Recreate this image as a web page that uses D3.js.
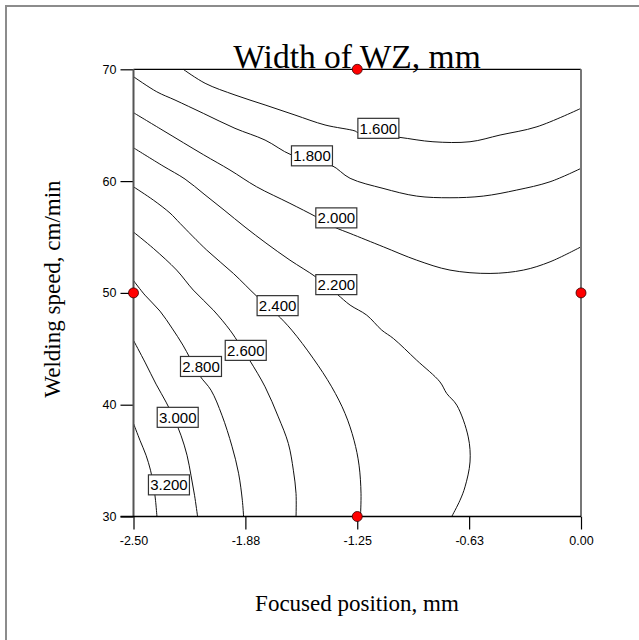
<!DOCTYPE html>
<html>
<head>
<meta charset="utf-8">
<script src="https://cdn.jsdelivr.net/npm/d3@7"></script>
<style>
  html, body { margin: 0; padding: 0; background: #fff; }
  svg { display: block; }
</style>
</head>
<body>
<svg id="chart" width="639" height="640"></svg>
<script>
// Axis ticks
const xTicks = [-2.5, -1.875, -1.25, -0.625, 0];
const xTickLabels = ["-2.50", "-1.88", "-1.25", "-0.63", "0.00"];
const yTicks = [30, 40, 50, 60, 70];

// Contour levels of the weld-zone width (mm)
const levels = [1.6, 1.8, 2.0, 2.2, 2.4, 2.6, 2.8, 3.0, 3.2];

// Contour traces: [focused position (mm), welding speed (cm/min)]
const c160 = [[-2.222,70],[-2.100,68.75],[-1.933,67.70],[-1.765,66.81],[-1.598,65.91],[-1.430,65.02],[-1.262,64.48],[-1.246,64.33],[-1.017,63.92],[-0.827,63.52],[-0.620,63.52],[-0.452,64.12],[-0.246,64.86],[0,66.51]];
const c180 = [[-2.5,69.34],[-2.370,67.99],[-2.268,67.25],[-2.110,66.06],[-1.933,64.72],[-1.765,63.67],[-1.616,62.33],[-1.397,61.44],[-1.290,60.25],[-1.106,59.35],[-0.918,58.66],[-0.732,58.51],[-0.546,58.66],[-0.359,59.20],[-0.173,59.94],[0,61.14]];
const c200 = [[-2.5,66.12],[-2.335,64.53],[-2.108,62.35],[-1.961,60.99],[-1.812,59.49],[-1.626,58.01],[-1.480,56.81],[-1.374,55.86],[-1.290,55.32],[-1.104,54.12],[-0.918,52.93],[-0.732,52.04],[-0.508,51.74],[-0.322,52.04],[-0.173,52.78],[0,54.12]];
const c220 = [[-2.5,62.98],[-2.335,61.35],[-2.212,60.18],[-2.106,58.84],[-1.994,57.41],[-1.877,55.89],[-1.760,54.46],[-1.626,52.93],[-1.480,51.41],[-1.363,49.89],[-1.290,48.91],[-1.197,48.01],[-1.113,46.67],[-1.048,45.92],[-0.918,43.98],[-0.788,42.04],[-0.750,41.00],[-0.694,39.96],[-0.630,37.12],[-0.620,34.88],[-0.648,32.65],[-0.676,31.45],[-0.722,30]];
const c240 = [[-2.5,59.49],[-2.389,58.30],[-2.296,57.14],[-2.240,56.22],[-2.091,53.83],[-1.942,51.74],[-1.812,49.71],[-1.700,48.10],[-1.616,46.67],[-1.497,44.16],[-1.393,41.60],[-1.318,39.21],[-1.268,36.82],[-1.240,34.59],[-1.229,32.08],[-1.232,30]];
const c260 = [[-2.5,55.44],[-2.389,53.98],[-2.259,52.04],[-2.166,50.25],[-2.054,48.46],[-1.961,46.67],[-1.905,45.33],[-1.849,43.92],[-1.765,41.60],[-1.691,38.91],[-1.635,36.53],[-1.607,34.14],[-1.592,32.06],[-1.592,30]];
const c280 = [[-2.5,51.10],[-2.436,49.80],[-2.352,48.37],[-2.285,46.85],[-2.224,45.33],[-2.184,44.16],[-2.128,42.55],[-2.067,41.30],[-2.006,39.06],[-1.950,36.29],[-1.913,33.87],[-1.892,31.45],[-1.885,30]];
const c300 = [[-2.5,45.75],[-2.436,43.81],[-2.374,41.84],[-2.318,40.23],[-2.274,38.79],[-2.235,37.27],[-2.201,35.48],[-2.179,33.69],[-2.159,31.90],[-2.142,30]];
const c320 = [[-2.5,38.32],[-2.464,36.82],[-2.430,35.48],[-2.405,34.14],[-2.388,32.80],[-2.377,31.45],[-2.369,30]];
const contourTraces = [c160, c180, c200, c220, c240, c260, c280, c300, c320];

// Where each level's label sits: [focused position, welding speed]
const labelSpots = [[-1.132,64.72],[-1.503,62.26],[-1.367,56.71],[-1.367,50.74],[-1.695,48.86],[-1.873,44.86],[-2.123,43.42],[-2.253,38.87],[-2.302,32.83]];

// Design points
const designX = [-1.25, -2.5, 0, -1.25];
const designY = [70, 50, 50, 30];

const svg = d3.select("#chart");

// Outer frame
svg.append("path")
  .attr("d", "M6,640 V6 H639")
  .attr("fill", "none")
  .attr("stroke", "#8c8c8c")
  .attr("stroke-width", 2);

const plotLeft = 133.5, plotRight = 581, plotTop = 69.3, plotBottom = 516.5;
const x = d3.scaleLinear().domain([-2.5, 0]).range([plotLeft, plotRight]);
const y = d3.scaleLinear().domain([30, 70]).range([plotBottom, plotTop]);

// Title
svg.append("text")
  .attr("x", 357).attr("y", 68)
  .attr("text-anchor", "middle")
  .attr("font-family", "'Liberation Serif', 'Times New Roman', serif")
  .attr("font-size", 33.5)
  .attr("fill", "#000")
  .text("Width of WZ, mm");

// Contour lines
const line = d3.line()
  .x(d => x(d[0])).y(d => y(d[1]))
  .curve(d3.curveCatmullRom.alpha(0.5));

svg.append("g")
  .selectAll("path")
  .data(contourTraces)
  .join("path")
  .attr("d", line)
  .attr("fill", "none")
  .attr("stroke", "#111")
  .attr("stroke-width", 1);

// Axes
const axisFont = "'Liberation Sans', Arial, sans-serif";
const yAxis = svg.append("g")
  .attr("transform", `translate(${plotLeft},0)`)
  .call(d3.axisLeft(y).tickValues(yTicks).tickFormat(d3.format("d")).tickSize(13).tickSizeOuter(0).tickPadding(4));
const xAxis = svg.append("g")
  .attr("transform", `translate(0,${plotBottom})`)
  .call(d3.axisBottom(x).tickValues(xTicks).tickFormat((d, i) => xTickLabels[i]).tickSize(13).tickSizeOuter(0).tickPadding(7));
[yAxis, xAxis].forEach(g => {
  g.select(".domain").remove();
  g.selectAll("line").attr("stroke", "#000").attr("stroke-width", 1.2);
  g.selectAll("text").attr("font-family", axisFont).attr("font-size", 12.5).attr("fill", "#000");
});

// Plot frame
svg.append("line").attr("x1", plotLeft).attr("x2", plotRight).attr("y1", plotTop).attr("y2", plotTop)
  .attr("stroke", "#000").attr("stroke-width", 1.2);
svg.append("line").attr("x1", plotRight).attr("x2", plotRight).attr("y1", plotTop).attr("y2", plotBottom)
  .attr("stroke", "#777").attr("stroke-width", 2);
svg.append("line").attr("x1", plotLeft).attr("x2", plotLeft).attr("y1", plotTop).attr("y2", plotBottom)
  .attr("stroke", "#555").attr("stroke-width", 2);
svg.append("line").attr("x1", plotLeft - 13).attr("x2", plotRight).attr("y1", plotBottom).attr("y2", plotBottom)
  .attr("stroke", "#000").attr("stroke-width", 1.6);

// Contour labels
const labelG = svg.append("g")
  .selectAll("g")
  .data(levels)
  .join("g")
  .attr("transform", (d, i) => `translate(${x(labelSpots[i][0])},${y(labelSpots[i][1])})`);
labelG.append("rect")
  .attr("x", -20.5).attr("y", -10)
  .attr("width", 41).attr("height", 20)
  .attr("fill", "#fff")
  .attr("stroke", "#333")
  .attr("stroke-width", 1.2);
labelG.append("text")
  .attr("text-anchor", "middle")
  .attr("dy", "0.36em")
  .attr("font-family", axisFont)
  .attr("font-size", 15)
  .attr("fill", "#000")
  .text(d => d3.format(".3f")(d));

// Design points
svg.append("g")
  .selectAll("circle")
  .data(designX)
  .join("circle")
  .attr("cx", d => x(d))
  .attr("cy", (d, i) => y(designY[i]))
  .attr("r", 5)
  .attr("fill", "#f00")
  .attr("stroke", "#300")
  .attr("stroke-width", 0.8);

// Axis titles
svg.append("text")
  .attr("x", 357).attr("y", 611)
  .attr("text-anchor", "middle")
  .attr("font-family", "'Liberation Serif', 'Times New Roman', serif")
  .attr("font-size", 23)
  .attr("fill", "#000")
  .text("Focused position, mm");
svg.append("text")
  .attr("transform", "translate(60,289) rotate(-90)")
  .attr("text-anchor", "middle")
  .attr("font-family", "'Liberation Serif', 'Times New Roman', serif")
  .attr("font-size", 23)
  .attr("fill", "#000")
  .text("Welding speed, cm/min");
</script>
</body>
</html>
